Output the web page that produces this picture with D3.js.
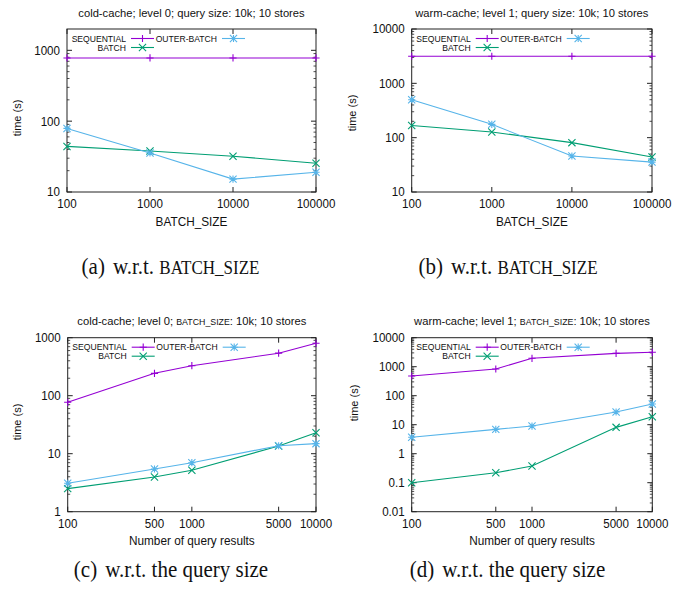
<!DOCTYPE html>
<html>
<head>
<meta charset="utf-8">
<script src="https://cdn.jsdelivr.net/npm/d3@7"></script>
<style>
body { margin: 0; background: #fff; }
svg { display: block; }
text { font-family: "Liberation Sans", Arial, sans-serif; fill: #111; }
.cap { font-family: "Liberation Serif", "Times New Roman", serif; font-size: 21px; }
</style>
</head>
<body>
<svg id="fig" width="689" height="589"></svg>
<script>
// x values
const batchSizes = [100, 1000, 10000, 100000];
const querySizes = [100, 500, 1000, 5000, 10000];

// (a) cold-cache, level 0, w.r.t. BATCH_SIZE
const aSequential = [780, 780, 780, 780];
const aBatch = [44, 38, 32, 25.5];
const aOuter = [79, 35.5, 15.2, 19];

// (b) warm-cache, level 1, w.r.t. BATCH_SIZE
const bSequential = [3150, 3150, 3150, 3150];
const bBatch = [168, 127, 81, 44];
const bOuter = [500, 176, 46, 35.5];

// (c) cold-cache, level 0, w.r.t. query size
const cSequential = [77, 243, 329, 541, 800];
const cBatch = [2.5, 3.97, 5.17, 13.6, 23];
const cOuter = [3.09, 5.45, 7.0, 13.7, 14.9];

// (d) warm-cache, level 1, w.r.t. query size
const dSequential = [478, 833, 1950, 2890, 3140];
const dBatch = [0.1, 0.22, 0.376, 8.1, 18.9];
const dOuter = [3.68, 6.9, 9.0, 27.4, 51.7];

const colors = {"SEQUENTIAL": "#9400d3", "BATCH": "#009e73", "OUTER-BATCH": "#56b4e9"};

function markerPath(name, r) {
    let plus = `M${-r},0H${r}M0,${-r}V${r}`;
    let cross = `M${-r},${-r}L${r},${r}M${-r},${r}L${r},${-r}`;
    if (name === "SEQUENTIAL") return plus;
    if (name === "BATCH") return cross;
    return plus + cross;
}

// text slightly stretched vertically, like the reference
function label(g, x, y, str, size, anchor, stretch) {
    return g.append("text")
        .attr("transform", `translate(${x},${y}) scale(1,${stretch || 1})`)
        .attr("dy", "0.36em").attr("text-anchor", anchor)
        .style("font-size", size + "px").text(str);
}

const svg = d3.select("#fig");

function drawPanel(p) {
    let g = svg.append("g");
    let x = d3.scaleLog().domain(p.xDomain).range([p.left, p.right]);
    let y = d3.scaleLog().domain(p.yDomain).range([p.bottom, p.top]);

    // minor y ticks
    let minors = [];
    let [y0, y1] = p.yDomain;
    for (let dec = y0; dec < y1; dec *= 10) {
        for (let k = 2; k <= 9; k++) {
            let v = dec * k;
            if (v < y1) minors.push(v);
        }
    }
    minors.forEach(v => {
        let yy = y(v);
        g.append("line").attr("x1", p.left).attr("x2", p.left + 2.5).attr("y1", yy).attr("y2", yy)
            .attr("stroke", "#222").attr("stroke-width", 0.8);
        g.append("line").attr("x1", p.right).attr("x2", p.right - 2.5).attr("y1", yy).attr("y2", yy)
            .attr("stroke", "#222").attr("stroke-width", 0.8);
    });

    // major ticks + labels
    p.yTicks.forEach(v => {
        let yy = y(v);
        g.append("line").attr("x1", p.left).attr("x2", p.left + 5).attr("y1", yy).attr("y2", yy)
            .attr("stroke", "#222");
        g.append("line").attr("x1", p.right).attr("x2", p.right - 5).attr("y1", yy).attr("y2", yy)
            .attr("stroke", "#222");
        label(g, p.left - 7, yy, d3.format("~g")(v), 11.6, "end", 1.05);
    });
    p.xValues.forEach(v => {
        let xx = x(v);
        g.append("line").attr("x1", xx).attr("x2", xx).attr("y1", p.bottom).attr("y2", p.bottom - 5)
            .attr("stroke", "#222");
        g.append("line").attr("x1", xx).attr("x2", xx).attr("y1", p.top).attr("y2", p.top + 5)
            .attr("stroke", "#222");
        label(g, xx, p.bottom + 11.5, v, 11.6, "middle", 1.05);
    });

    // frame
    g.append("rect").attr("x", p.left).attr("y", p.top)
        .attr("width", p.right - p.left).attr("height", p.bottom - p.top)
        .attr("fill", "none").attr("stroke", "#222").attr("stroke-width", 1);

    // series
    let line = d3.line().x(d => x(d[0])).y(d => y(d[1]));
    ["SEQUENTIAL", "BATCH", "OUTER-BATCH"].forEach(name => {
        let pts = p.xValues.map((v, i) => [v, p.series[name][i]]);
        g.append("path").datum(pts).attr("d", line)
            .attr("fill", "none").attr("stroke", colors[name]).attr("stroke-width", 1.1);
        g.selectAll(null).data(pts).enter().append("path")
            .attr("transform", d => `translate(${x(d[0])},${y(d[1])})`)
            .attr("d", markerPath(name, 3.6))
            .attr("fill", "none").attr("stroke", colors[name]).attr("stroke-width", 1.1);
    });

    // legend (two columns)
    let legend = [
        {name: "SEQUENTIAL", tx: 59, row: 0},
        {name: "BATCH", tx: 59, row: 1},
        {name: "OUTER-BATCH", tx: 150, row: 0}
    ];
    legend.forEach(l => {
        let ly = p.top + 9.5 + l.row * 9;
        label(g, p.left + l.tx, ly, l.name, 8.6, "end", 1.05);
        let sx0 = p.left + l.tx + 5, sx1 = sx0 + 23;
        g.append("line").attr("x1", sx0).attr("x2", sx1).attr("y1", ly).attr("y2", ly)
            .attr("stroke", colors[l.name]).attr("stroke-width", 1.1);
        g.append("path").attr("transform", `translate(${(sx0 + sx1) / 2},${ly})`)
            .attr("d", markerPath(l.name, 3.6))
            .attr("fill", "none").attr("stroke", colors[l.name]).attr("stroke-width", 1.1);
    });

    // title
    let t = label(g, (p.left + p.right) / 2, p.titleY, null, 11.2, "middle", 1.05);
    p.title.forEach(part => {
        let ts = t.append("tspan").text(part.s);
        if (part.small) ts.style("font-size", "8.8px");
    });

    // axis labels
    label(g, (p.left + p.right) / 2, p.xLabelY, p.xLabel, 11.8, "middle", 1.08);
    g.append("text").attr("transform", `translate(${p.yLabelX},${p.yLabelY}) rotate(-90)`)
        .attr("dy", "0.36em").attr("text-anchor", "middle").style("font-size", "11px").text("time (s)");

    // caption
    let c = svg.append("text").attr("class", "cap")
        .attr("transform", `translate(${p.capX},${p.capY}) scale(1,1.08)`)
        .attr("dy", "0.33em").attr("text-anchor", "middle");
    p.caption.forEach(part => {
        let ts = c.append("tspan").text(part.s);
        if (part.dx) ts.attr("dx", part.dx);
        if (part.small) ts.style("font-size", "17px");
    });
}

const qTitle = (cache, level) => [{s: cache + "; level " + level + "; "}, {s: "BATCH_SIZE", small: true}, {s: ": 10k; 10 stores"}];

drawPanel({
    left: 67, right: 316, top: 29, bottom: 192,
    xDomain: [100, 100000], yDomain: [10, 2000], yTicks: [10, 100, 1000],
    xValues: batchSizes,
    series: {"SEQUENTIAL": aSequential, "BATCH": aBatch, "OUTER-BATCH": aOuter},
    title: [{s: "cold-cache; level 0; query size: 10k; 10 stores"}], titleY: 13,
    xLabel: "BATCH_SIZE", xLabelY: 221, yLabelX: 17, yLabelY: 118,
    caption: [{s: "(a)"}, {s: "w.r.t.", dx: 8}, {s: " "}, {s: "BATCH_SIZE", small: true}], capX: 170.5, capY: 267
});
drawPanel({
    left: 411.7, right: 652, top: 29, bottom: 192,
    xDomain: [100, 100000], yDomain: [10, 10000], yTicks: [10, 100, 1000, 10000],
    xValues: batchSizes,
    series: {"SEQUENTIAL": bSequential, "BATCH": bBatch, "OUTER-BATCH": bOuter},
    title: [{s: "warm-cache; level 1; query size: 10k; 10 stores"}], titleY: 13,
    xLabel: "BATCH_SIZE", xLabelY: 221, yLabelX: 352, yLabelY: 113,
    caption: [{s: "(b)"}, {s: "w.r.t.", dx: 8}, {s: " "}, {s: "BATCH_SIZE", small: true}], capX: 508, capY: 267
});
drawPanel({
    left: 67.7, right: 316, top: 337.7, bottom: 511.7,
    xDomain: [100, 10000], yDomain: [1, 1000], yTicks: [1, 10, 100, 1000],
    xValues: querySizes,
    series: {"SEQUENTIAL": cSequential, "BATCH": cBatch, "OUTER-BATCH": cOuter},
    title: qTitle("cold-cache", 0), titleY: 320.7,
    xLabel: "Number of query results", xLabelY: 540, yLabelX: 17, yLabelY: 422,
    caption: [{s: "(c)"}, {s: "w.r.t. the query size", dx: 8}], capX: 171, capY: 570
});
drawPanel({
    left: 411.7, right: 652.3, top: 337.7, bottom: 511.7,
    xDomain: [100, 10000], yDomain: [0.01, 10000], yTicks: [0.01, 0.1, 1, 10, 100, 1000, 10000],
    xValues: querySizes,
    series: {"SEQUENTIAL": dSequential, "BATCH": dBatch, "OUTER-BATCH": dOuter},
    title: qTitle("warm-cache", 1), titleY: 320.7,
    xLabel: "Number of query results", xLabelY: 540, yLabelX: 354, yLabelY: 403,
    caption: [{s: "(d)"}, {s: "w.r.t. the query size", dx: 8}], capX: 507.5, capY: 570
});
</script>
</body>
</html>
